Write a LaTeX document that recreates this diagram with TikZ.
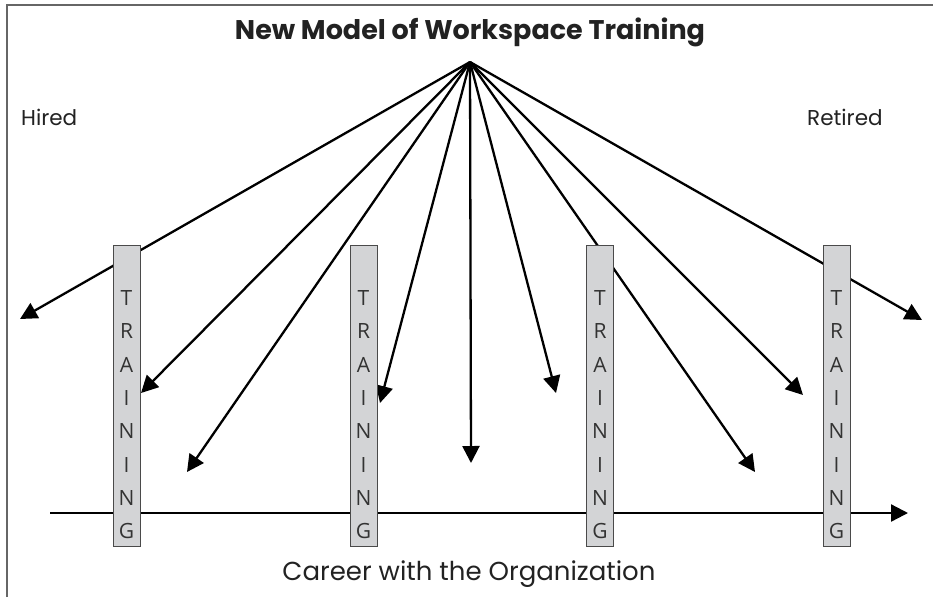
\documentclass[tikz,border=0pt]{standalone}
\usepackage{fontspec}
\setmainfont{Poppins}
\newfontfamily\boxfont{Open Sans}
\usetikzlibrary{arrows.meta}
\definecolor{boxfill}{HTML}{D3D4D6}
\definecolor{boxdraw}{HTML}{4A4A4A}
\definecolor{letterc}{HTML}{333333}
\definecolor{framec}{HTML}{666666}
\definecolor{txt}{HTML}{222222}
\tikzset{
  arr/.style={line width=2.3pt, -{Triangle[length=17pt,width=17pt]}},
  trainbox/.style={draw=boxdraw, line width=1pt, fill=boxfill, minimum width=27pt, minimum height=301pt, inner sep=0pt},
  lbl/.style={text=txt, inner sep=0pt},
}
\newcommand{\trainletters}{\boxfont\fontsize{21}{33.3}\selectfont\color{letterc}%
  \begin{tabular}{@{}c@{}}T\\R\\A\\I\\N\\I\\N\\G\end{tabular}}
\begin{document}
\begin{tikzpicture}[x=1pt,y=-1pt]
\useasboundingbox (0,0) rectangle (933,597);
% frame
\draw[framec, line width=2pt] (7,597) -- (7,5) -- (933,5);
% titles
\node[lbl, font=\fontsize{27}{30}\selectfont\bfseries] (title) at (470,32) {New Model of Workspace Training};
\node[lbl, anchor=west, font=\fontsize{21.5}{24}\selectfont] (hired) at (21,117) {Hired};
\node[lbl, anchor=west, font=\fontsize{21.5}{24}\selectfont] (retired) at (807,117) {Retired};
\node[lbl, font=\fontsize{26}{30}\selectfont] (career) at (469,574) {Career with the Organization};
% apex and targets
\coordinate (apex) at (470,62);
\coordinate (t1) at (20,319);
\coordinate (t2) at (141,393);
\coordinate (t3) at (187,472);
\coordinate (t4) at (380,403);
\coordinate (t5) at (471,463);
\coordinate (t6) at (556,393);
\coordinate (t7) at (755,472);
\coordinate (t8) at (803,395);
\coordinate (t9) at (922,320);
\foreach \t in {t1,t2,t3,t4,t5,t6,t7,t8,t9}
  \draw[arr] (apex) -- (\t);
% career line
\coordinate (cs) at (50,513);
\coordinate (ce) at (908,513);
\draw[arr] (cs) -- (ce);
% training boxes
\node[trainbox] (b1) at (126.5,395.5) {};
\node[trainbox] (b2) at (363.5,395.5) {};
\node[trainbox] (b3) at (600,395.5) {};
\node[trainbox] (b4) at (836.5,395.5) {};
\foreach \b in {b1,b2,b3,b4}
  \node[inner sep=0pt] at ([yshift=-20pt]\b.center) {\trainletters};
\end{tikzpicture}
\end{document}
